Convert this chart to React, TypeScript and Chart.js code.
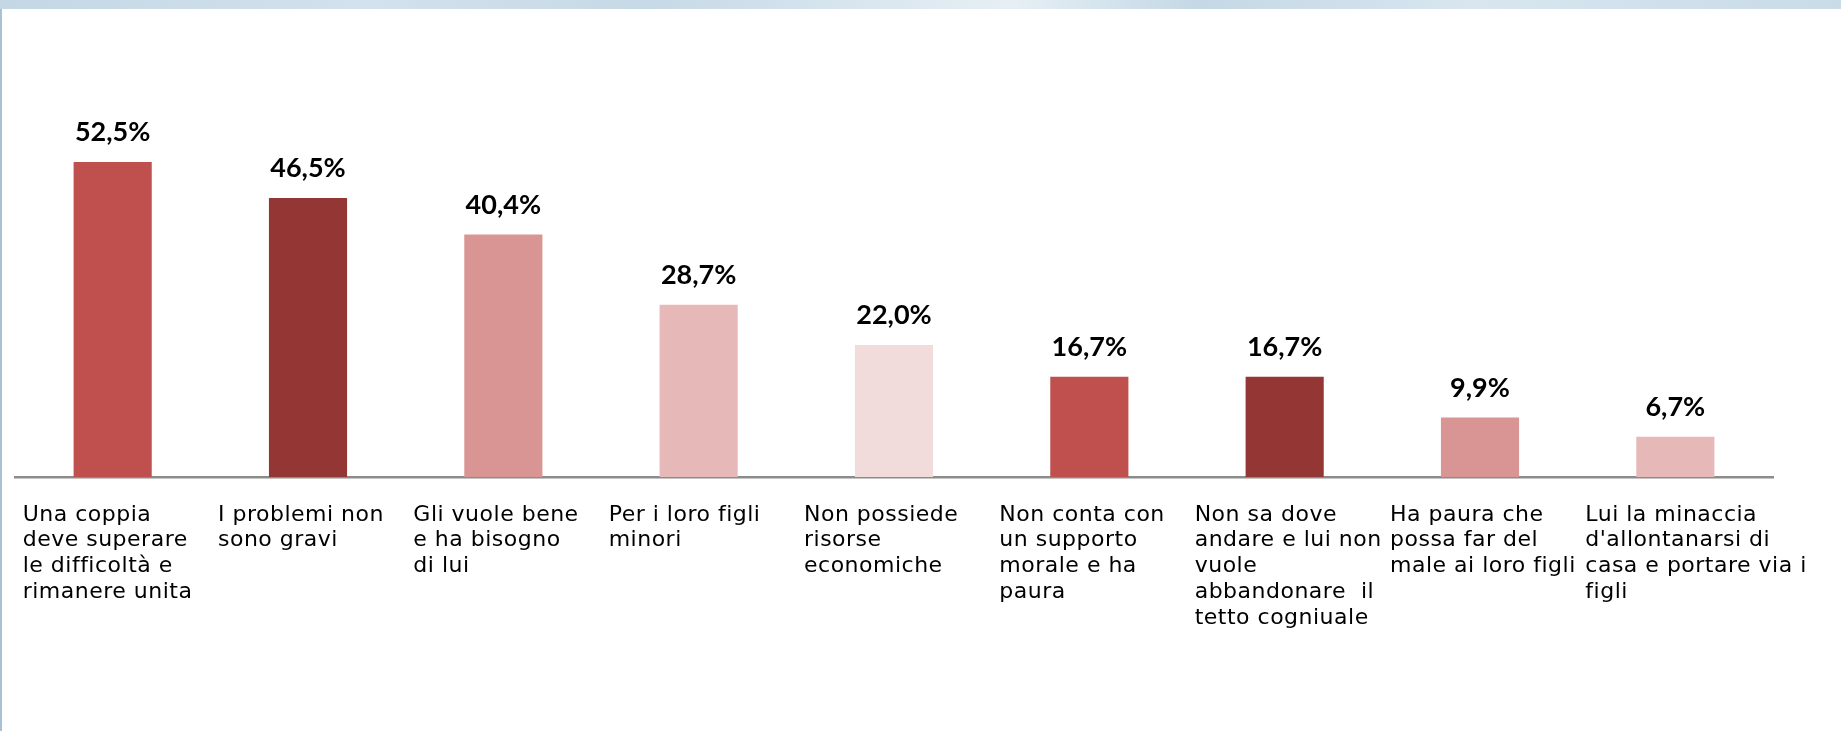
import React, { useEffect, useRef } from "react";
import { Chart, registerables } from "chart.js";

Chart.register(...registerables);

const categories: string[][] = [
  ["Una coppia", "deve superare", "le difficoltà e", "rimanere unita"],
  ["I problemi non", "sono gravi"],
  ["Gli vuole bene", "e ha bisogno", "di lui"],
  ["Per i loro figli", "minori"],
  ["Non possiede", "risorse", "economiche"],
  ["Non conta con", "un supporto", "morale e ha", "paura"],
  ["Non sa dove", "andare e lui non", "vuole", "abbandonare  il", "tetto cogniuale"],
  ["Ha paura che", "possa far del", "male ai loro figli"],
  ["Lui la minaccia", "d'allontanarsi di", "casa e portare via i", "figli"],
];

const values: number[] = [52.5, 46.5, 40.4, 28.7, 22.0, 16.7, 16.7, 9.9, 6.7];

const barColors: string[] = [
  "#C0504D",
  "#943634",
  "#D99594",
  "#E6B9B8",
  "#F2DCDB",
  "#C0504D",
  "#943634",
  "#D99594",
  "#E6B9B8",
];

const formatValue = (v: number) => v.toFixed(1).replace(".", ",") + "%";

const spacingPlugin = {
  id: "labelSpacing",
  beforeDraw(chart: any) {
    (chart.ctx as any).letterSpacing = "0.5px";
  },
  afterDraw(chart: any) {
    (chart.ctx as any).letterSpacing = "0px";
  },
};

const valueLabelPlugin = {
  id: "valueLabels",
  afterDatasetsDraw(chart: any) {
    const ctx = chart.ctx;
    const meta = chart.getDatasetMeta(0);
    ctx.save();
    (ctx as any).letterSpacing = "0px";
    ctx.font = "bold 27px Lato, 'Open Sans', sans-serif";
    ctx.fillStyle = "#000000";
    ctx.textAlign = "center";
    ctx.textBaseline = "alphabetic";
    meta.data.forEach((bar: any, i: number) => {
      const v = chart.data.datasets[0].data[i] as number;
      ctx.fillText(formatValue(v), bar.x, bar.y - 21);
    });
    ctx.restore();
  },
};

export default function App() {
  const canvasRef = useRef<HTMLCanvasElement | null>(null);

  useEffect(() => {
    if (!canvasRef.current) return;
    const chart = new Chart(canvasRef.current, {
      type: "bar",
      data: {
        labels: categories,
        datasets: [
          {
            data: values,
            backgroundColor: barColors,
            borderWidth: 0,
            categoryPercentage: 1,
            barPercentage: 0.4,
          },
        ],
      },
      options: {
        animation: false,
        responsive: true,
        maintainAspectRatio: false,
        layout: { padding: { left: 15, right: 68, top: 117, bottom: 94 } },
        plugins: {
          legend: { display: false },
          tooltip: { enabled: false },
          title: { display: false },
        },
        scales: {
          x: {
            grid: { display: false, drawTicks: false },
            border: { display: true, color: "#8C8C8C", width: 2.5 },
            ticks: {
              autoSkip: false,
              maxRotation: 0,
              minRotation: 0,
              align: "start",
              labelOffset: -90,
              padding: 25,
              color: "#000000",
              font: { family: "'DejaVu Sans', sans-serif", size: 22, lineHeight: 1.17 },
            },
            afterFit: (scale: any) => {
              scale.height = 160;
              scale.paddingLeft = 0;
              scale.paddingRight = 0;
            },
          },
          y: {
            display: false,
            min: 0,
            max: 60,
          },
        },
      },
      plugins: [spacingPlugin, valueLabelPlugin],
    });
    return () => chart.destroy();
  }, []);

  return (
    <div
      style={{
        position: "fixed",
        left: 0,
        top: 0,
        width: 1841,
        height: 731,
        background: "#ffffff",
        overflow: "hidden",
      }}
    >
      <div
        style={{
          position: "absolute",
          left: 0,
          top: 0,
          width: 1841,
          height: 9,
          background:
            "linear-gradient(90deg, #c3d7e5 0%, #d3e2ec 20%, #c6d9e6 35%, #e6eff5 55%, #c4d8e5 65%, #d9e6ef 80%, #c8dbe7 100%)",
        }}
      />
      <div
        style={{
          position: "absolute",
          left: 0,
          top: 9,
          width: 2,
          height: 722,
          background: "#a9c1d1",
        }}
      />
      <div style={{ position: "absolute", left: 0, top: 0, width: 1841, height: 731 }}>
        <canvas ref={canvasRef} />
      </div>
    </div>
  );
}
